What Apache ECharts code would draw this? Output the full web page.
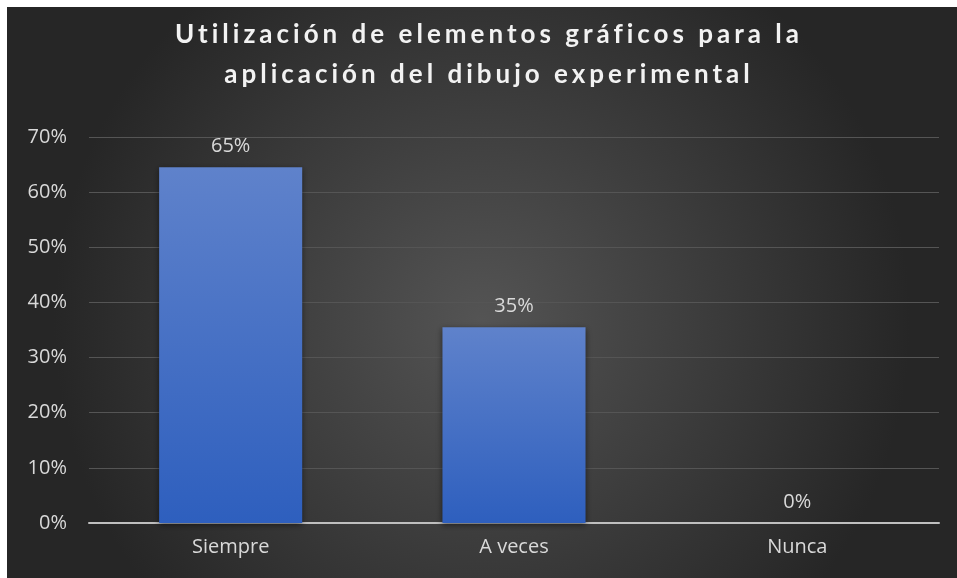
<!DOCTYPE html>
<html><head><meta charset="utf-8">
<script src="https://cdn.jsdelivr.net/npm/echarts@6/dist/echarts.min.js"></script>
<style>html,body{margin:0;padding:0;background:#fff;}#c{position:absolute;left:7px;top:7px;width:950px;height:571px;}</style>
</head><body><div id="c"></div>
<script>
const titleText = 'Utilización de elementos gráficos para la\naplicación del dibujo experimental';
const categories = ['Siempre', 'A veces', 'Nunca'];
const values = [0.6452, 0.3548, 0];
const yTicks = [0, 0.1, 0.2, 0.3, 0.4, 0.5, 0.6, 0.7];

// letter spacing for the title font only
(function(){
  const proto = CanvasRenderingContext2D.prototype;
  const orig = proto.fillText;
  proto.fillText = function(t, x, y, m){
    if ('letterSpacing' in this) this.letterSpacing = this.font.indexOf('Lato') >= 0 ? '4px' : '0px';
    return m === undefined ? orig.call(this, t, x, y) : orig.call(this, t, x, y, m);
  };
})();

const chart = echarts.init(document.getElementById('c'));
chart.setOption({
  backgroundColor: {type:'radial', x:0.5, y:0.55, r:0.75, colorStops:[{offset:0,color:'#545454'},{offset:1,color:'#262626'}]},
  graphic: [{
    type:'text', x: 482, y: 8, z: 10,
    style: {text: titleText, textAlign:'center', textVerticalAlign:'top', fill:'#f2f2f2',
      font:'bold 26px Lato', lineHeight:40,
      shadowColor:'rgba(0,0,0,0.85)', shadowBlur:4, shadowOffsetX:1, shadowOffsetY:2}
  }],
  grid: {left: 82, right: 18, top: 130, bottom: 55},
  xAxis: {
    type:'category', data: categories,
    axisLine:{lineStyle:{color:'#bfbfbf', width:2}},
    axisTick:{show:false},
    axisLabel:{color:'#d9d9d9', fontFamily:'Open Sans', fontSize:20, margin:14}
  },
  yAxis: {
    type:'value', min: yTicks[0], max: yTicks[yTicks.length-1], interval: 0.1,
    axisLine:{show:false}, axisTick:{show:false},
    axisLabel:{color:'#d9d9d9', fontFamily:'Open Sans', fontSize:20, margin:22,
      formatter: v => Math.round(v*100) + '%'},
    splitLine:{lineStyle:{color:'#555555', width:1}}
  },
  series: [{
    type:'bar', data: values, barCategoryGap:'49.5%',
    itemStyle:{
      color:{type:'linear', x:0, y:0, x2:0, y2:1, colorStops:[{offset:0,color:'#5f82cb'},{offset:1,color:'#2e5fbe'}]},
      shadowColor:'rgba(0,0,0,0.5)', shadowBlur:6, shadowOffsetY:2
    },
    label:{show:true, position:'top', distance:11, color:'#d9d9d9', fontFamily:'Open Sans', fontSize:20,
      formatter: p => Math.round(p.value*100) + '%'}
  }]
});
</script></body></html>
